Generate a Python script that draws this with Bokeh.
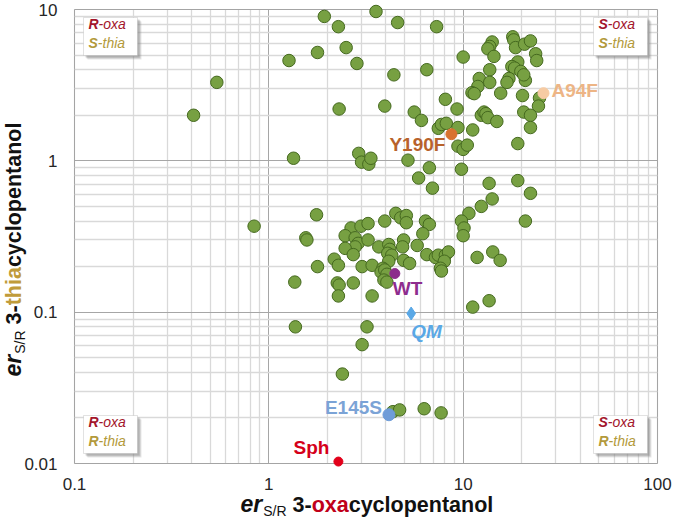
import math
from bokeh.plotting import figure
from bokeh.models import (FixedTicker, CustomJSTickFormatter, Label, BoxAnnotation, Range1d, Grid)
from bokeh.core.properties import value
from bokeh.embed import file_html
from bokeh.resources import INLINE

# ---------------- data ----------------
green_x = [0.41, 0.54, 1.27, 1.78, 1.93, 2.28, 2.5, 2.84, 3.56, 4.6, 7.3, 4.4, 6.5, 10.0,
           2.3, 3.95, 5.6, 6.1, 8.1, 9.3, 7.45, 7.73, 8.19, 9.4, 11.2, 9.4, 10.0, 10.5,
           2.9, 3.0, 3.27, 3.35, 5.2, 6.7, 9.8, 1.34,
           18.0, 18.2, 18.6, 14.1, 13.7, 13.4, 14.4, 20.7, 22.2, 23.6, 23.9, 19.1, 17.8, 18.4,
           19.8, 20.9, 20.5, 17.2, 16.8, 13.7, 12.1, 11.9, 11.1, 11.4, 13.7, 15.6, 20.2, 24.7,
           24.4, 20.5, 22.2, 22.2, 19.1, 12.4, 12.8, 13.1, 13.4, 14.9,
           5.9, 6.95, 13.6, 19.1, 22.2, 14.1, 12.4, 10.7, 20.9, 9.8, 10.1, 10.0,
           0.84, 1.76, 1.55, 1.57, 1.78, 1.36, 2.17, 2.28, 2.25, 2.30, 2.72, 2.28, 3.4,
           2.65, 2.98, 3.24, 2.47, 2.78, 2.88, 2.78, 2.47, 2.72, 3.24, 3.02, 3.4,
           3.95, 4.5, 4.77, 5.1, 5.1, 6.4, 6.7, 6.2, 3.68, 4.14, 4.19, 4.09, 4.29, 4.94, 4.88,
           4.14, 4.94, 5.3, 3.86, 3.78, 3.95, 4.05, 3.91, 4.05, 5.8, 6.5, 7.2, 7.45, 8.1, 8.4,
           8.0, 7.64, 7.73, 11.8, 14.2, 15.5, 11.2, 13.6,
           1.37, 3.2, 3.02, 2.39, 4.35, 4.71, 6.3, 7.7]
green_y = [2.0, 3.3, 4.6, 5.2, 9.0, 7.7, 5.6, 4.4, 9.7, 8.2, 7.7, 3.7, 4.0, 4.85,
           2.2, 2.3, 2.1, 1.85, 2.55, 2.2, 1.64, 1.74, 1.77, 1.66, 1.6, 1.25, 1.19, 1.27,
           1.12, 0.98, 0.95, 1.04, 1.01, 0.9, 0.88, 1.04,
           6.6, 6.3, 5.6, 6.1, 5.7, 5.5, 4.9, 5.9, 6.2, 5.1, 4.6, 4.5, 4.2, 4.1,
           3.9, 3.4, 3.7, 3.5, 3.3, 4.0, 3.5, 3.1, 2.82, 2.78, 3.3, 2.8, 2.7, 2.6,
           2.3, 2.1, 2.0, 1.66, 1.3, 2.0, 2.1, 2.05, 1.93, 1.82,
           0.77, 0.66, 0.71, 0.74, 0.61, 0.56, 0.5, 0.45, 0.4, 0.4, 0.36, 0.32,
           0.37, 0.44, 0.31, 0.30, 0.2, 0.158, 0.224, 0.204, 0.156, 0.151, 0.156, 0.128, 0.128,
           0.36, 0.37, 0.385, 0.32, 0.31, 0.285, 0.27, 0.264, 0.24, 0.3, 0.2, 0.204,
           0.4, 0.45, 0.42, 0.435, 0.39, 0.4, 0.38, 0.33, 0.27, 0.28, 0.26, 0.245, 0.238, 0.3, 0.27,
           0.217, 0.22, 0.21, 0.195, 0.184, 0.19, 0.178, 0.163, 0.158, 0.276, 0.24, 0.23, 0.238, 0.238, 0.25,
           0.217, 0.195, 0.187, 0.23, 0.25, 0.22, 0.108, 0.119,
           0.08, 0.08, 0.061, 0.039, 0.022, 0.0226, 0.023, 0.0216]

mut_names = ["Y190F", "A94F", "WT", "QM", "E145S", "Sph"]
mut_x = [8.7, 25.9, 4.45, 5.4, 4.15, 2.28]
mut_y = [1.5, 2.8, 0.18, 0.098, 0.021, 0.0103]

x_ticks = [0.1, 1, 10, 100]
y_ticks = [0.01, 0.1, 1, 10]

# ---------------- styles ----------------
mut_marker = ["circle", "circle", "circle", "diamond", "circle", "circle"]
mut_size = [11, 11, 10, 13, 12, 9]
mut_color = ["#D9722F", "#F6CBA3", "#8C2D8C", "#5AA8E6", "#6E9CD8", "#E2001A"]
lab_color = ["#B8622B", "#EDB585", "#8E2C8E", "#5AA8E6", "#7BA3D6", "#D50019"]
lab_style = ["bold", "bold", "bold", "bold italic", "bold", "bold"]
lab_align = ["right", "left", "left", "left", "right", "right"]
lab_dx = [-6, 8, -2, 0, -7, -9]
lab_dy = [10, -3, 15, 18, -7, -14]   # to the middle of the text, px downward

FONT = "Liberation Sans"
RED = "#A3162C"
GOLD = "#B39A3B"

# canvas and plot-area geometry (pixels in the canvas, from its top-left)
W, H = 672, 518
PL, PR, PT, PB = 74, 657, 9, 463

# ranges such that the decades from the tick lists fill the plot area
lx0, lx1 = math.log10(x_ticks[0]), math.log10(x_ticks[-1])
ly0, ly1 = math.log10(y_ticks[0]), math.log10(y_ticks[-1])
kx = (PR - PL) / (lx1 - lx0)
ky = (PB - PT) / (ly1 - ly0)
x_range = Range1d(10 ** (lx0 - PL / kx), 10 ** (lx1 + (W - PR) / kx))
y_range = Range1d(10 ** (ly0 - (H - PB) / ky), 10 ** (ly1 + PT / ky))

p = figure(width=W, height=H, x_axis_type="log", y_axis_type="log",
           x_range=x_range, y_range=y_range,
           output_backend="svg", toolbar_location=None,
           min_border=0, min_border_left=0, min_border_right=0,
           min_border_top=0, min_border_bottom=0)
p.outline_line_color = None
p.background_fill_color = "white"
p.border_fill_color = "white"

x_minor = [m * 10.0 ** k for k in range(-1, 2) for m in range(2, 10)]
y_minor = [m * 10.0 ** k for k in range(-2, 1) for m in range(2, 10)]
xt = FixedTicker(ticks=x_ticks, minor_ticks=x_minor)
yt = FixedTicker(ticks=y_ticks, minor_ticks=y_minor)
p.xaxis.ticker = xt
p.yaxis.ticker = yt
p.xgrid.ticker = xt
p.ygrid.ticker = yt

MAJ_C, MIN_C = "#a6a6a6", "#d9d9d9"
if "cross_bounds" in Grid.properties():
    p.xgrid.cross_bounds = (y_ticks[0], y_ticks[-1])
    p.ygrid.cross_bounds = (x_ticks[0], x_ticks[-1])
    for g in (p.xgrid, p.ygrid):
        g.grid_line_color = MAJ_C
        g.grid_line_width = 1
        g.minor_grid_line_color = MIN_C
        g.minor_grid_line_width = 1.3
else:
    for g in (p.xgrid, p.ygrid):
        g.visible = False
    p.segment(x0=x_minor, y0=[y_ticks[0]] * len(x_minor), x1=x_minor,
              y1=[y_ticks[-1]] * len(x_minor), line_color=MIN_C, line_width=1.3)
    p.segment(x0=[x_ticks[0]] * len(y_minor), y0=y_minor, x1=[x_ticks[-1]] * len(y_minor),
              y1=y_minor, line_color=MIN_C, line_width=1.3)
    p.segment(x0=x_ticks, y0=[y_ticks[0]] * 4, x1=x_ticks, y1=[y_ticks[-1]] * 4,
              line_color=MAJ_C, line_width=1)
    p.segment(x0=[x_ticks[0]] * 4, y0=y_ticks, x1=[x_ticks[-1]] * 4, y1=y_ticks,
              line_color=MAJ_C, line_width=1)

# plot-area border
p.add_layout(BoxAnnotation(left=x_ticks[0], right=x_ticks[-1], bottom=y_ticks[0],
                           top=y_ticks[-1], fill_color=None, fill_alpha=0,
                           line_color="#a0a0a0", line_width=1.2, level="underlay"))

fmt = CustomJSTickFormatter(code="return tick.toString();")
for ax in (p.xaxis, p.yaxis):
    ax.formatter = fmt
    ax.axis_line_color = None
    ax.major_tick_line_color = None
    ax.minor_tick_line_color = None
    ax.major_tick_out = 0
    ax.major_tick_in = 0
    ax.minor_tick_out = 0
    ax.minor_tick_in = 0
    ax.major_label_text_font = FONT
    ax.major_label_text_font_size = "17px"
    ax.major_label_text_color = "#262626"
p.xaxis.fixed_location = y_ticks[0]
p.yaxis.fixed_location = x_ticks[0]
p.xaxis.major_label_standoff = 14
p.yaxis.major_label_standoff = 17

# points
p.scatter(green_x, green_y, size=12.5, marker="circle", fill_color="#77A042",
          line_color="#45691F", line_width=1)
for i, name in enumerate(mut_names):
    p.scatter([mut_x[i]], [mut_y[i]], marker=mut_marker[i], size=mut_size[i],
              fill_color=mut_color[i], line_color=mut_color[i], line_width=1)
    p.text([mut_x[i]], [mut_y[i]], text=[name], x_offset=lab_dx[i], y_offset=lab_dy[i],
           text_align=lab_align[i], text_baseline="middle", text_font=value(FONT),
           text_font_size="19px", text_font_style=lab_style[i], text_color=lab_color[i])

# --------------- text helpers ---------------
BOLD_W = {' ': 278, '-': 333, '/': 278, '3': 556, 'a': 556, 'c': 556, 'e': 556, 'h': 611,
          'i': 278, 'l': 278, 'n': 611, 'o': 611, 'p': 611, 'r': 389, 't': 333, 'x': 556,
          'y': 556, 'R': 722, 'S': 667}
REG_W = {' ': 278, '-': 333, '/': 278, '3': 556, 'a': 556, 'c': 500, 'e': 556, 'h': 556,
         'i': 222, 'l': 222, 'n': 556, 'o': 556, 'p': 556, 'r': 333, 't': 278, 'x': 500,
         'y': 500, 'R': 722, 'S': 667}
MID = 0.358   # middle of capitals above the baseline, in em


def tw(text, size, bold):
    tab = BOLD_W if bold else REG_W
    return sum(tab.get(c, 556) for c in text) * size / 1000.0


def lab(text, x, y, size, color, style, angle=0.0):
    # screen units: measured from the bottom-left corner of the canvas-wide frame;
    # (x, y) is the middle of the text
    p.add_layout(Label(x=x, y=y, x_units="screen", y_units="screen", text=text,
                       text_font=FONT, text_font_size=f"{size}px", text_font_style=style,
                       text_color=color, angle=angle, text_align="left",
                       text_baseline="middle"))


MAIN = 21.5


def title(mid_word, mid_color, start, base, sub_shift, rotated):
    # base: baseline position (screen units, measured upward for the horizontal title,
    # rightward for the rotated one)
    segs = [("er", 23, "bold italic", "#111111", 0, True, 1),
            ("S/R", 14, "normal", "#111111", sub_shift, False, tw(" ", MAIN, True)),
            ("3-", MAIN, "bold", "#111111", 0, True, 0),
            (mid_word, MAIN, "bold", mid_color, 0, True, 0),
            ("cyclopentanol", MAIN, "bold", "#111111", 0, True, 0)]
    pos = start
    for text, size, style, color, shift, bold, gap in segs:
        if rotated:
            lab(text, base + shift - MID * size, pos, size, color, style, angle=math.pi / 2)
        else:
            lab(text, pos, base - shift + MID * size, size, color, style)
        pos += tw(text, size, bold) + gap


# plot area in screen units (from bottom-left of canvas)
SL, SR, SB, ST = PL, PR, H - PB, H - PT

# x title: baseline 6 px above the canvas bottom
title("oxa", "#C0001A", 240, 6, 4, False)
# y title, rotated: baseline at x = 21
title("thia", "#C09B3A", H - 376, 21, 4, True)

# --------------- quadrant boxes ---------------
BW, BH = 54, 38
boxes = [(SL + 9, ST - 8, "R", "-oxa", "S", "-thia"),
         (SR - 64, ST - 8, "S", "-oxa", "S", "-thia"),
         (SL + 9, SB + 48, "R", "-oxa", "R", "-thia"),
         (SR - 64, SB + 48, "S", "-oxa", "R", "-thia")]
for (bx, btop, a1, b1, a2, b2) in boxes:
    for off, alpha in ((4, 0.18), (3, 0.3), (2, 0.3)):
        p.add_layout(BoxAnnotation(left=bx + off, right=bx + BW + off, top=btop - off,
                                   bottom=btop - BH - off, left_units="screen",
                                   right_units="screen", top_units="screen",
                                   bottom_units="screen", fill_color="#808080",
                                   fill_alpha=alpha, line_color=None))
    p.add_layout(BoxAnnotation(left=bx, right=bx + BW, top=btop, bottom=btop - BH,
                               left_units="screen", right_units="screen", top_units="screen",
                               bottom_units="screen", fill_color="white", fill_alpha=1,
                               line_color="#a0a0a0", line_width=1))
    tx = bx + 5
    for (first, rest, color, dy) in ((a1, b1, RED, 12), (a2, b2, GOLD, 31)):
        yb = btop - dy + MID * 14
        lab(first, tx, yb, 14, color, "bold italic")
        lab(rest, tx + tw(first, 14, True), yb, 14, color, "italic")

open("out.html", "w").write(file_html(p, INLINE))
